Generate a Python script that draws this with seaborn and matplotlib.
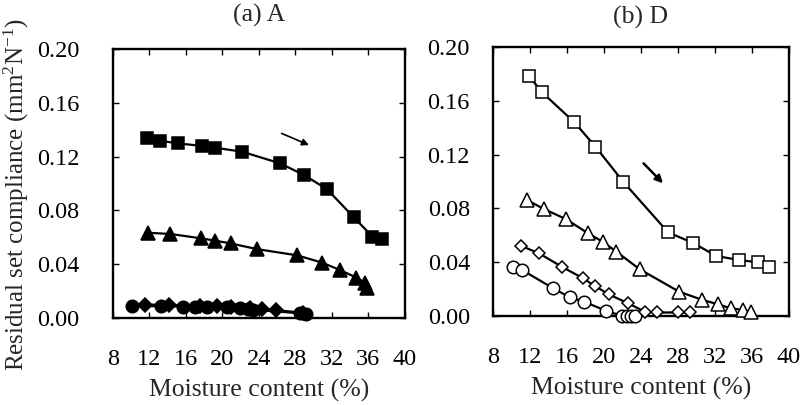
import matplotlib
matplotlib.use("Agg")
import matplotlib.pyplot as plt
import seaborn as sns
import pandas as pd

# ---- data: moisture content (%) vs residual set compliance (mm^2 N^-1) ----
# (a) A : filled markers
a_sq_x = [11.8, 13.15, 15.16, 17.83, 19.25, 22.17, 26.34, 28.97, 31.49, 34.41, 36.46, 37.55]
a_sq_y = [0.1336, 0.1318, 0.1299, 0.1279, 0.1266, 0.1237, 0.1150, 0.1063, 0.0957, 0.0749, 0.0605, 0.0587]
a_tri_x = [11.87, 14.32, 17.72, 19.25, 20.9, 23.75, 28.2, 30.98, 32.88, 34.7, 35.62, 35.87]
a_tri_y = [0.0634, 0.0625, 0.0592, 0.0575, 0.0555, 0.0513, 0.0466, 0.0411, 0.0357, 0.0300, 0.0263, 0.0221]
a_dia_x = [11.5, 14.2, 17.6, 19.4, 21.0, 23.0, 24.3, 25.9, 28.8]
a_dia_y = [0.0100, 0.0098, 0.0091, 0.0087, 0.0082, 0.0073, 0.0066, 0.0058, 0.0040]
a_cir_x = [10.1, 13.3, 15.7, 17.0, 18.3, 20.5, 21.9, 22.8, 23.4, 28.5, 29.2]
a_cir_y = [0.0088, 0.0088, 0.0085, 0.0083, 0.0082, 0.0079, 0.0072, 0.0066, 0.0062, 0.0035, 0.0033]

# (b) D : open markers
b_sq_x = [11.89, 13.33, 16.83, 19.1, 22.09, 26.95, 29.59, 32.18, 34.63, 36.68, 37.87]
b_sq_y = [0.1787, 0.1663, 0.1440, 0.1259, 0.0999, 0.0622, 0.0545, 0.0446, 0.0416, 0.0399, 0.0362]
b_tri_x = [11.71, 13.51, 15.89, 18.3, 19.86, 21.37, 23.89, 28.14, 30.67, 32.36, 33.7, 35.06, 35.9]
b_tri_y = [0.0862, 0.0796, 0.0721, 0.0615, 0.0553, 0.0478, 0.0347, 0.0181, 0.0119, 0.0087, 0.0057, 0.0045, 0.0027]
b_dia_x = [11.1, 13.0, 15.43, 17.77, 19.03, 20.54, 22.63, 24.43, 25.7, 28.03, 29.37]
b_dia_y = [0.0520, 0.0466, 0.0367, 0.0280, 0.0223, 0.0161, 0.0094, 0.0032, 0.0026, 0.0026, 0.0026]
b_cir_x = [10.2, 11.17, 14.52, 16.32, 17.87, 20.22, 22.02, 22.52, 22.99, 23.42]
b_cir_y = [0.0367, 0.0342, 0.0206, 0.0139, 0.0106, 0.0039, 0.0, 0.0, 0.0, 0.0]

x_ticks = [8, 12, 16, 20, 24, 28, 32, 36, 40]
y_ticks = [0.00, 0.04, 0.08, 0.12, 0.16, 0.20]
titles = ["(a) A", "(b) D"]
x_label = "Moisture content (%)"
y_label = r"Residual set compliance (mm$^{2}$N$^{-1}$)"

sns.set_theme(style="ticks")
plt.rcParams["font.family"] = ["Liberation Serif", "DejaVu Serif"]
plt.rcParams["mathtext.fontset"] = "custom"
plt.rcParams["mathtext.rm"] = "Liberation Serif"
plt.rcParams["mathtext.it"] = "Liberation Serif:italic"
plt.rcParams["axes.unicode_minus"] = True

fig = plt.figure(figsize=(8.0, 4.05), dpi=100)
ax_a = fig.add_axes([0.141, 0.2148, 0.365, 0.664])
ax_b = fig.add_axes([0.616, 0.2198, 0.370, 0.664])


def series(ax, xs, ys, marker, ms, filled):
    df = pd.DataFrame({"x": xs, "y": ys})
    sns.lineplot(data=df, x="x", y="y", ax=ax, sort=False, estimator=None,
                 color="black", linewidth=1.6, marker=marker, markersize=ms,
                 markerfacecolor="black" if filled else "white",
                 markeredgecolor="black", markeredgewidth=1.1,
                 clip_on=False, zorder=5)


series(ax_a, a_cir_x, a_cir_y, "o", 9, True)
series(ax_a, a_dia_x, a_dia_y, "D", 7, True)
series(ax_a, a_tri_x, a_tri_y, "^", 10, True)
series(ax_a, a_sq_x, a_sq_y, "s", 8.5, True)

series(ax_b, b_cir_x, b_cir_y, "o", 9, False)
series(ax_b, b_dia_x, b_dia_y, "D", 6.5, False)
series(ax_b, b_tri_x, b_tri_y, "^", 10, False)
series(ax_b, b_sq_x, b_sq_y, "s", 8, False)

# direction arrows
ax_a.annotate("", xy=(29.5, 0.1286), xytext=(26.5, 0.1373),
              arrowprops=dict(arrowstyle="-|>", color="black", lw=1.2,
                              mutation_scale=10, shrinkA=0, shrinkB=0))
ax_b.annotate("", xy=(26.4, 0.0987), xytext=(24.3, 0.1135),
              arrowprops=dict(arrowstyle="-|>", color="black", lw=1.8,
                              mutation_scale=11, shrinkA=0, shrinkB=0))

for ax, title, ypad, tpad in [(ax_a, titles[0], 24, 20), (ax_b, titles[1], 16.5, 17)]:
    ax.set_xlim(8, 40)
    ax.set_ylim(0, 0.20)
    ax.set_xticks(x_ticks)
    ax.set_yticks(y_ticks)
    ax.set_yticklabels([f"{v:.2f}" for v in y_ticks])
    ax.tick_params(direction="in", length=4, width=1, top=True, right=True,
                   labelsize=17.5, colors="black")
    ax.tick_params(axis="x", pad=22)
    ax.tick_params(axis="y", pad=ypad)
    for sp in ax.spines.values():
        sp.set_linewidth(1.7)
        sp.set_color("black")
    ax.set_xlabel(x_label, fontsize=18.5, labelpad=7)
    ax.set_ylabel("")
    ax.set_title(title, fontsize=18.5, pad=tpad)

ax_a.set_ylabel(y_label, fontsize=18)
ax_a.yaxis.set_label_coords(-0.28, 0.457)

fig.savefig("out.png", dpi=100)
